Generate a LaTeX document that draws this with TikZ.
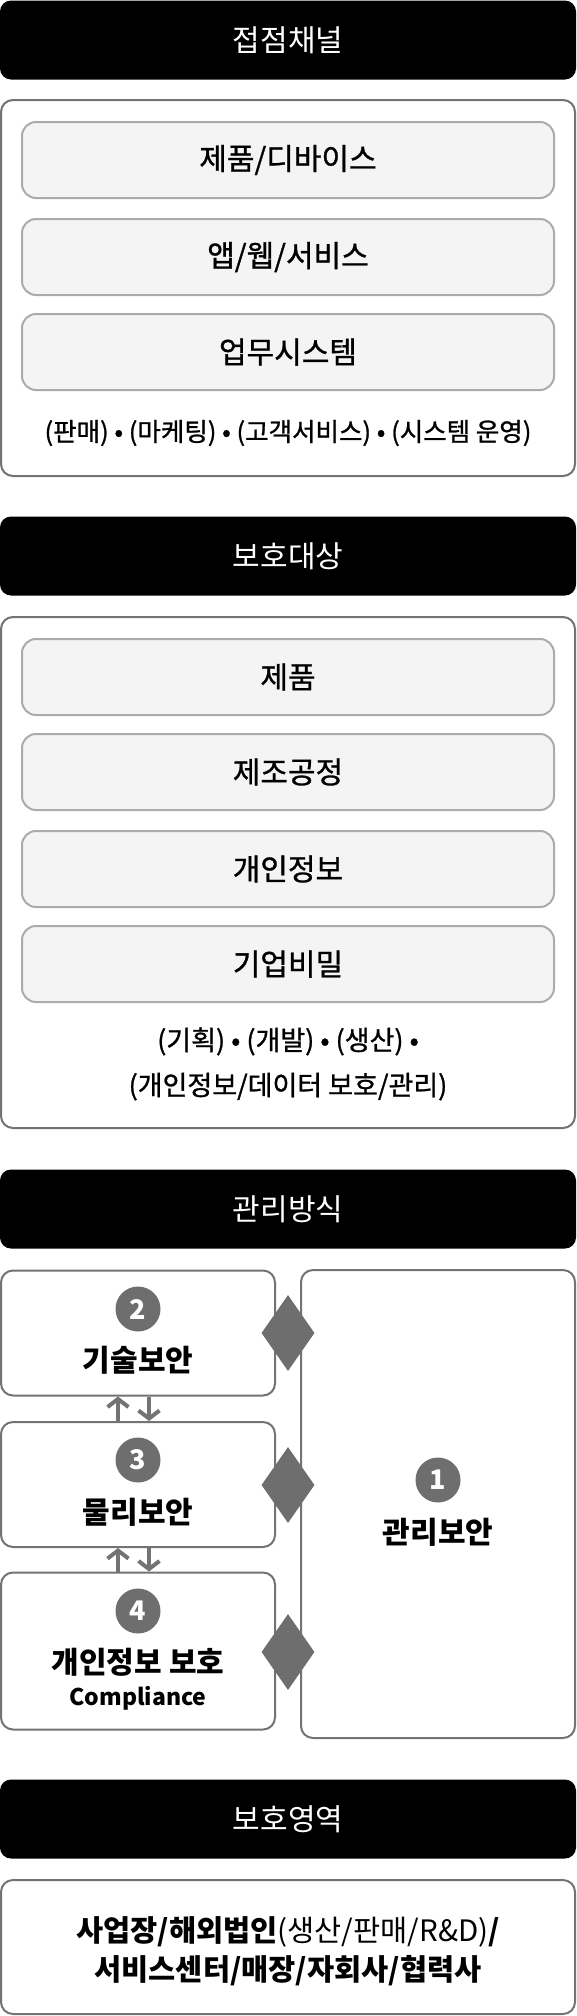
\documentclass[tikz,border=0pt]{standalone}
\usepackage{fontspec}
\setmainfont{Noto Sans CJK KR}
\newfontfamily\medfont[FakeBold=1]{Noto Sans CJK KR}
\usepackage{tikz}
\usetikzlibrary{shapes.geometric,arrows.meta}
\definecolor{linegray}{HTML}{737373}
\definecolor{itemline}{HTML}{ABABAB}
\definecolor{itemfill}{HTML}{F4F4F4}
\definecolor{markgray}{HTML}{6E6E6E}
\newcommand{\bigtext}{\fontsize{30pt}{36pt}\selectfont}
\newcommand{\itemtext}{\medfont\fontsize{30pt}{36pt}\selectfont}
\newcommand{\listtext}{\medfont\fontsize{25.5pt}{45pt}\selectfont}
\tikzstyle{header} = [fill=black, text=white, rounded corners=11pt,
    minimum width=576pt, minimum height=79pt, inner sep=0pt, font=\bigtext]
\tikzstyle{panel} = [draw=linegray, fill=white, line width=2pt,
    rounded corners=12pt, inner sep=0pt]
\tikzstyle{item} = [draw=itemline, fill=itemfill, line width=2pt,
    rounded corners=14pt, minimum width=532pt, minimum height=76pt, font=\itemtext]
\tikzstyle{badge} = [circle, fill=markgray, text=white, minimum size=45pt,
    inner sep=0pt, font=\fontsize{27pt}{27pt}\selectfont\bfseries]
\tikzstyle{joint} = [diamond, fill=markgray, minimum width=53pt,
    minimum height=76pt, inner sep=0pt]
\tikzstyle{flow} = [draw=linegray, line width=4pt,
    -{Straight Barb[length=8pt,width=21pt]}]

\begin{document}
\begin{tikzpicture}[x=1pt,y=-1pt]
\useasboundingbox (0,0) rectangle (576,2016);

% 접점채널
\node[header] (h1) at (288,40) {접점채널};
\node[panel, minimum width=574pt, minimum height=376pt] (chan) at (288,288) {};
\node[item] (dev) at (288,160) {제품/디바이스};
\node[item] (app) at (288,257) {앱/웹/서비스};
\node[item] (sys) at (288,352) {업무시스템};
\node[font=\listtext] (chanlist) at (288,433) {(판매) • (마케팅) • (고객서비스) • (시스템 운영)};

% 보호대상
\node[header] (h2) at (288,556) {보호대상};
\node[panel, minimum width=574pt, minimum height=511pt] (target) at (288,872.5) {};
\node[item] (prod) at (288,677) {제품};
\node[item] (proc) at (288,772) {제조공정};
\node[item] (priv) at (288,869) {개인정보};
\node[item] (secret) at (288,964) {기업비밀};
\node[font=\medfont\fontsize{27pt}{45pt}\selectfont, align=center] (targetlist) at (288,1064)
    {(기획) • (개발) • (생산) •\\(개인정보/데이터 보호/관리)};

% 관리방식
\node[header] (h3) at (288,1209) {관리방식};
\node[panel, minimum width=274pt, minimum height=468pt] (mgmt) at (438,1504) {};
\node[panel, minimum width=274pt, minimum height=125pt] (tech) at (138,1333) {};
\node[panel, minimum width=274pt, minimum height=125pt] (phys) at (138,1484.5) {};
\node[panel, minimum width=274pt, minimum height=157pt] (comp) at (138,1651) {};
\node[joint] (j2) at (288,1333) {};
\node[joint] (j3) at (288,1485) {};
\node[joint] (j4) at (288,1652) {};

\node[badge] (n1) at (438,1480) {1};
\node[font=\bigtext\bfseries] (mgmtlabel) at (438,1532) {관리보안};
\node[badge] (n2) at (138,1309) {2};
\node[font=\bigtext\bfseries] (techlabel) at (138,1360) {기술보안};
\node[badge] (n3) at (138,1460) {3};
\node[font=\bigtext\bfseries] (physlabel) at (138,1512) {물리보안};
\node[badge] (n4) at (138,1611) {4};
\node[font=\bigtext\bfseries] (complabel) at (138,1662) {개인정보 보호};
\node[font=\fontsize{23pt}{23pt}\selectfont\bfseries] (compsub) at (138,1698) {Compliance};

\draw[flow] ([xshift=-20pt]phys.north) -- ([xshift=-20pt]tech.south);
\draw[flow] ([xshift=11pt]tech.south) -- ([xshift=11pt]phys.north);
\draw[flow] ([xshift=-20pt]comp.north) -- ([xshift=-20pt]phys.south);
\draw[flow] ([xshift=11pt]phys.south) -- ([xshift=11pt]comp.north);

% 보호영역
\node[header] (h4) at (288,1819) {보호영역};
\node[panel, minimum width=574pt, minimum height=134pt] (area) at (288,1947) {};
\node[font=\fontsize{29.5pt}{39pt}\selectfont\bfseries, align=center] (arealist) at (288,1951)
    {사업장/해외법인{\mdseries(생산/판매/R\&D)}/\\서비스센터/매장/자회사/협력사};
\end{tikzpicture}
\end{document}
